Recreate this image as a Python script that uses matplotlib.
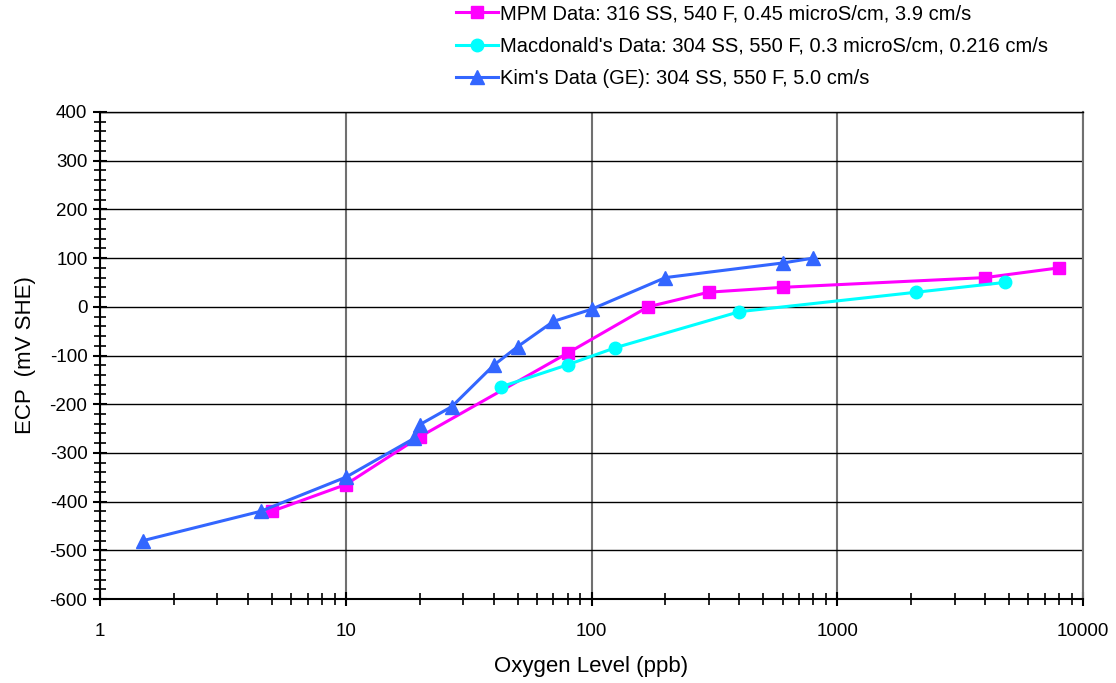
import matplotlib
matplotlib.use("Agg")
import matplotlib.pyplot as plt
from matplotlib.ticker import LogLocator, MultipleLocator, FixedLocator, NullFormatter

plt.rcParams['font.family'] = ['Liberation Sans', 'DejaVu Sans']
plt.rcParams['axes.unicode_minus'] = False

mpm_x = [5, 10, 20, 80, 170, 300, 600, 4000, 8000]
mpm_y = [-420, -365, -267, -95, 0, 30, 40, 60, 80]
mac_x = [43, 80, 125, 400, 2100, 4800]
mac_y = [-164, -119, -84, -10, 30, 50]
kim_x = [1.5, 4.5, 10, 19, 20, 27, 40, 50, 70, 100, 200, 600, 800]
kim_y = [-480, -420, -350, -270, -242, -205, -120, -82, -30, -5, 60, 90, 100]

labels = ["MPM Data: 316 SS, 540 F, 0.45 microS/cm, 3.9 cm/s",
          "Macdonald's Data: 304 SS, 550 F, 0.3 microS/cm, 0.216 cm/s",
          "Kim's Data (GE): 304 SS, 550 F, 5.0 cm/s"]
xticks = [1, 10, 100, 1000, 10000]
xticklabels = ["1", "10", "100", "1000", "10000"]
yticks = list(range(-600, 401, 100))

fig = plt.figure(figsize=(11.16, 6.83), dpi=100)
ax = fig.add_axes([100/1116, 1-599/683, (1083-100)/1116, (599-112)/683])

ax.plot(mpm_x, mpm_y, color='#FF00FF', lw=2.2, marker='s', ms=9, label=labels[0], zorder=3)
ax.plot(mac_x, mac_y, color='#00FFFF', lw=2.2, marker='o', ms=9, label=labels[1], zorder=3)
ax.plot(kim_x, kim_y, color='#3366FF', lw=2.2, marker='^', ms=10, label=labels[2], zorder=4)

ax.set_xscale('log')
ax.set_xlim(1, 10000)
ax.set_ylim(-600, 400)
ax.xaxis.set_major_locator(FixedLocator(xticks))
ax.set_xticklabels(xticklabels)
ax.xaxis.set_minor_locator(LogLocator(base=10, subs=range(2, 10), numticks=20))
ax.xaxis.set_minor_formatter(NullFormatter())
ax.set_yticks(yticks)
ax.yaxis.set_minor_locator(MultipleLocator(20))

ax.grid(True, axis='y', which='major', color='black', lw=1)
ax.grid(True, axis='x', which='major', color='#707070', lw=1.5)
ax.set_axisbelow(True)

ax.tick_params(axis='both', which='major', direction='inout', length=10, width=1.5,
               labelsize=13.5, colors='black')
ax.tick_params(axis='both', which='minor', direction='inout', length=8, width=1.2)
ax.tick_params(axis='x', which='major', pad=12)
ax.tick_params(axis='y', which='major', pad=4)

ax.spines['left'].set_linewidth(1.5)
ax.spines['bottom'].set_linewidth(1.5)
ax.spines['top'].set_color('black')
ax.spines['top'].set_linewidth(1)
ax.spines['right'].set_color('#707070')
ax.spines['right'].set_linewidth(1.5)

ax.set_xlabel("Oxygen Level (ppb)", fontsize=16, labelpad=12)
ax.set_ylabel("ECP  (mV SHE)", fontsize=16, labelpad=10)

fig.legend(loc='upper left', bbox_to_anchor=(452/1116, 1.0), frameon=False,
           fontsize=14.5, handlelength=2.1, handletextpad=0.1, labelspacing=0.68,
           borderaxespad=0.05, borderpad=0.15)

fig.savefig("out.png", dpi=100)
